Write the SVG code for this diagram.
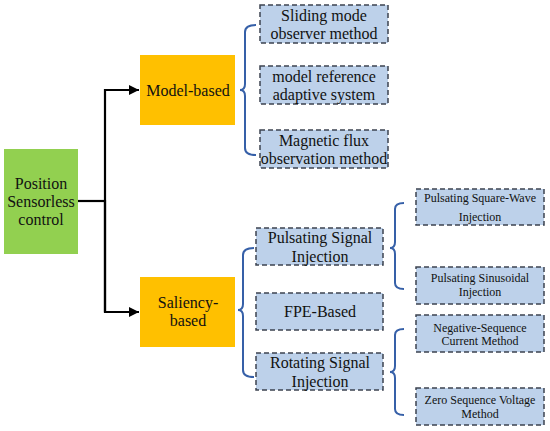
<svg xmlns="http://www.w3.org/2000/svg" width="550" height="431" viewBox="0 0 550 431">
<defs>
<marker id="arr" viewBox="0 0 10 10" refX="10" refY="5" markerWidth="10" markerHeight="10" markerUnits="userSpaceOnUse" orient="auto"><path d="M0,0 L10,5 L0,10 z" fill="#000"/></marker>
<style>
.t{font-family:"Liberation Serif","DejaVu Serif","Times New Roman",serif;fill:#111;text-anchor:middle}
.b{font-size:16px}
.s{font-size:12px}
.leaf{fill:#bdd1ea;stroke:#3c4350;stroke-width:1.5;stroke-dasharray:5,3}
.br{fill:none;stroke:#3660a8;stroke-width:2}
.cn{fill:none;stroke:#000;stroke-width:2.2}
</style>
</defs>
<rect width="550" height="431" fill="#fff"/>
<g id="connectors">
<path class="cn" d="M78,201 H105"/>
<path class="cn" d="M105,312 V90 H139" marker-end="url(#arr)"/>
<path class="cn" d="M105,200 V312 H139" marker-end="url(#arr)"/>
<path class="br" d="M256,25 Q245,25 245,32 V84 Q245,90 240,90 Q245,90 245,96 V148 Q245,155 256,155"/>
<path class="br" d="M254,248 Q243,248 243,255 V304 Q243,310 238,310 Q243,310 243,316 V370 Q243,377 254,377"/>
<path class="br" d="M404,203 Q395,203 395,209 V242 Q395,248 390,248 Q395,248 395,254 V283 Q395,289 404,289"/>
<path class="br" d="M404,329 Q395,329 395,335 V366 Q395,372 390,372 Q395,372 395,378 V409 Q395,415 404,415"/>
</g>
<g id="root">
<rect x="4" y="149" width="74" height="105" fill="#92d050"/>
<text class="t b" x="41" y="189" font-family="Liberation Serif, serif">Position</text>
<text class="t b" x="41" y="207">Sensorless</text>
<text class="t b" x="41" y="225">control</text>
</g>
<g id="model-based">
<rect x="140" y="55" width="95" height="70" fill="#ffc000"/>
<text class="t b" x="188" y="96">Model-based</text>
</g>
<g id="saliency-based">
<rect x="140" y="277" width="95" height="70" fill="#ffc000"/>
<text class="t b" x="188" y="308">Saliency-</text>
<text class="t b" x="188" y="326">based</text>
</g>
<g id="sliding">
<rect class="leaf" x="260" y="5" width="128" height="38"/>
<text class="t b" x="324" y="21">Sliding mode</text>
<text class="t b" x="324" y="39">observer method</text>
</g>
<g id="mras">
<rect class="leaf" x="260" y="66" width="128" height="38"/>
<text class="t b" x="324" y="82">model reference</text>
<text class="t b" x="324" y="100">adaptive system</text>
</g>
<g id="flux">
<rect class="leaf" x="260" y="130" width="128" height="38"/>
<text class="t b" x="324" y="146">Magnetic flux</text>
<text class="t b" x="324" y="164">observation method</text>
</g>
<g id="pulsating">
<rect class="leaf" x="256" y="228" width="127" height="37"/>
<text class="t b" x="320" y="243">Pulsating Signal</text>
<text class="t b" x="320" y="262">Injection</text>
</g>
<g id="fpe">
<rect class="leaf" x="256" y="293" width="127" height="37"/>
<text class="t b" x="320" y="317">FPE-Based</text>
</g>
<g id="rotating">
<rect class="leaf" x="256" y="353" width="127" height="37"/>
<text class="t b" x="320" y="368">Rotating Signal</text>
<text class="t b" x="320" y="387">Injection</text>
</g>
<g id="square-wave">
<rect class="leaf" x="416" y="189" width="128" height="36"/>
<text class="t s" x="480" y="202">Pulsating Square-Wave</text>
<text class="t s" x="480" y="221">Injection</text>
</g>
<g id="sinusoidal">
<rect class="leaf" x="416" y="267" width="128" height="37"/>
<text class="t s" x="480" y="282">Pulsating Sinusoidal</text>
<text class="t s" x="480" y="296">Injection</text>
</g>
<g id="negative-seq">
<rect class="leaf" x="416" y="315" width="128" height="37"/>
<text class="t s" x="480" y="332">Negative-Sequence</text>
<text class="t s" x="480" y="345">Current Method</text>
</g>
<g id="zero-seq">
<rect class="leaf" x="416" y="388" width="128" height="37"/>
<text class="t s" x="480" y="404">Zero Sequence Voltage</text>
<text class="t s" x="480" y="418">Method</text>
</g>
</svg>
